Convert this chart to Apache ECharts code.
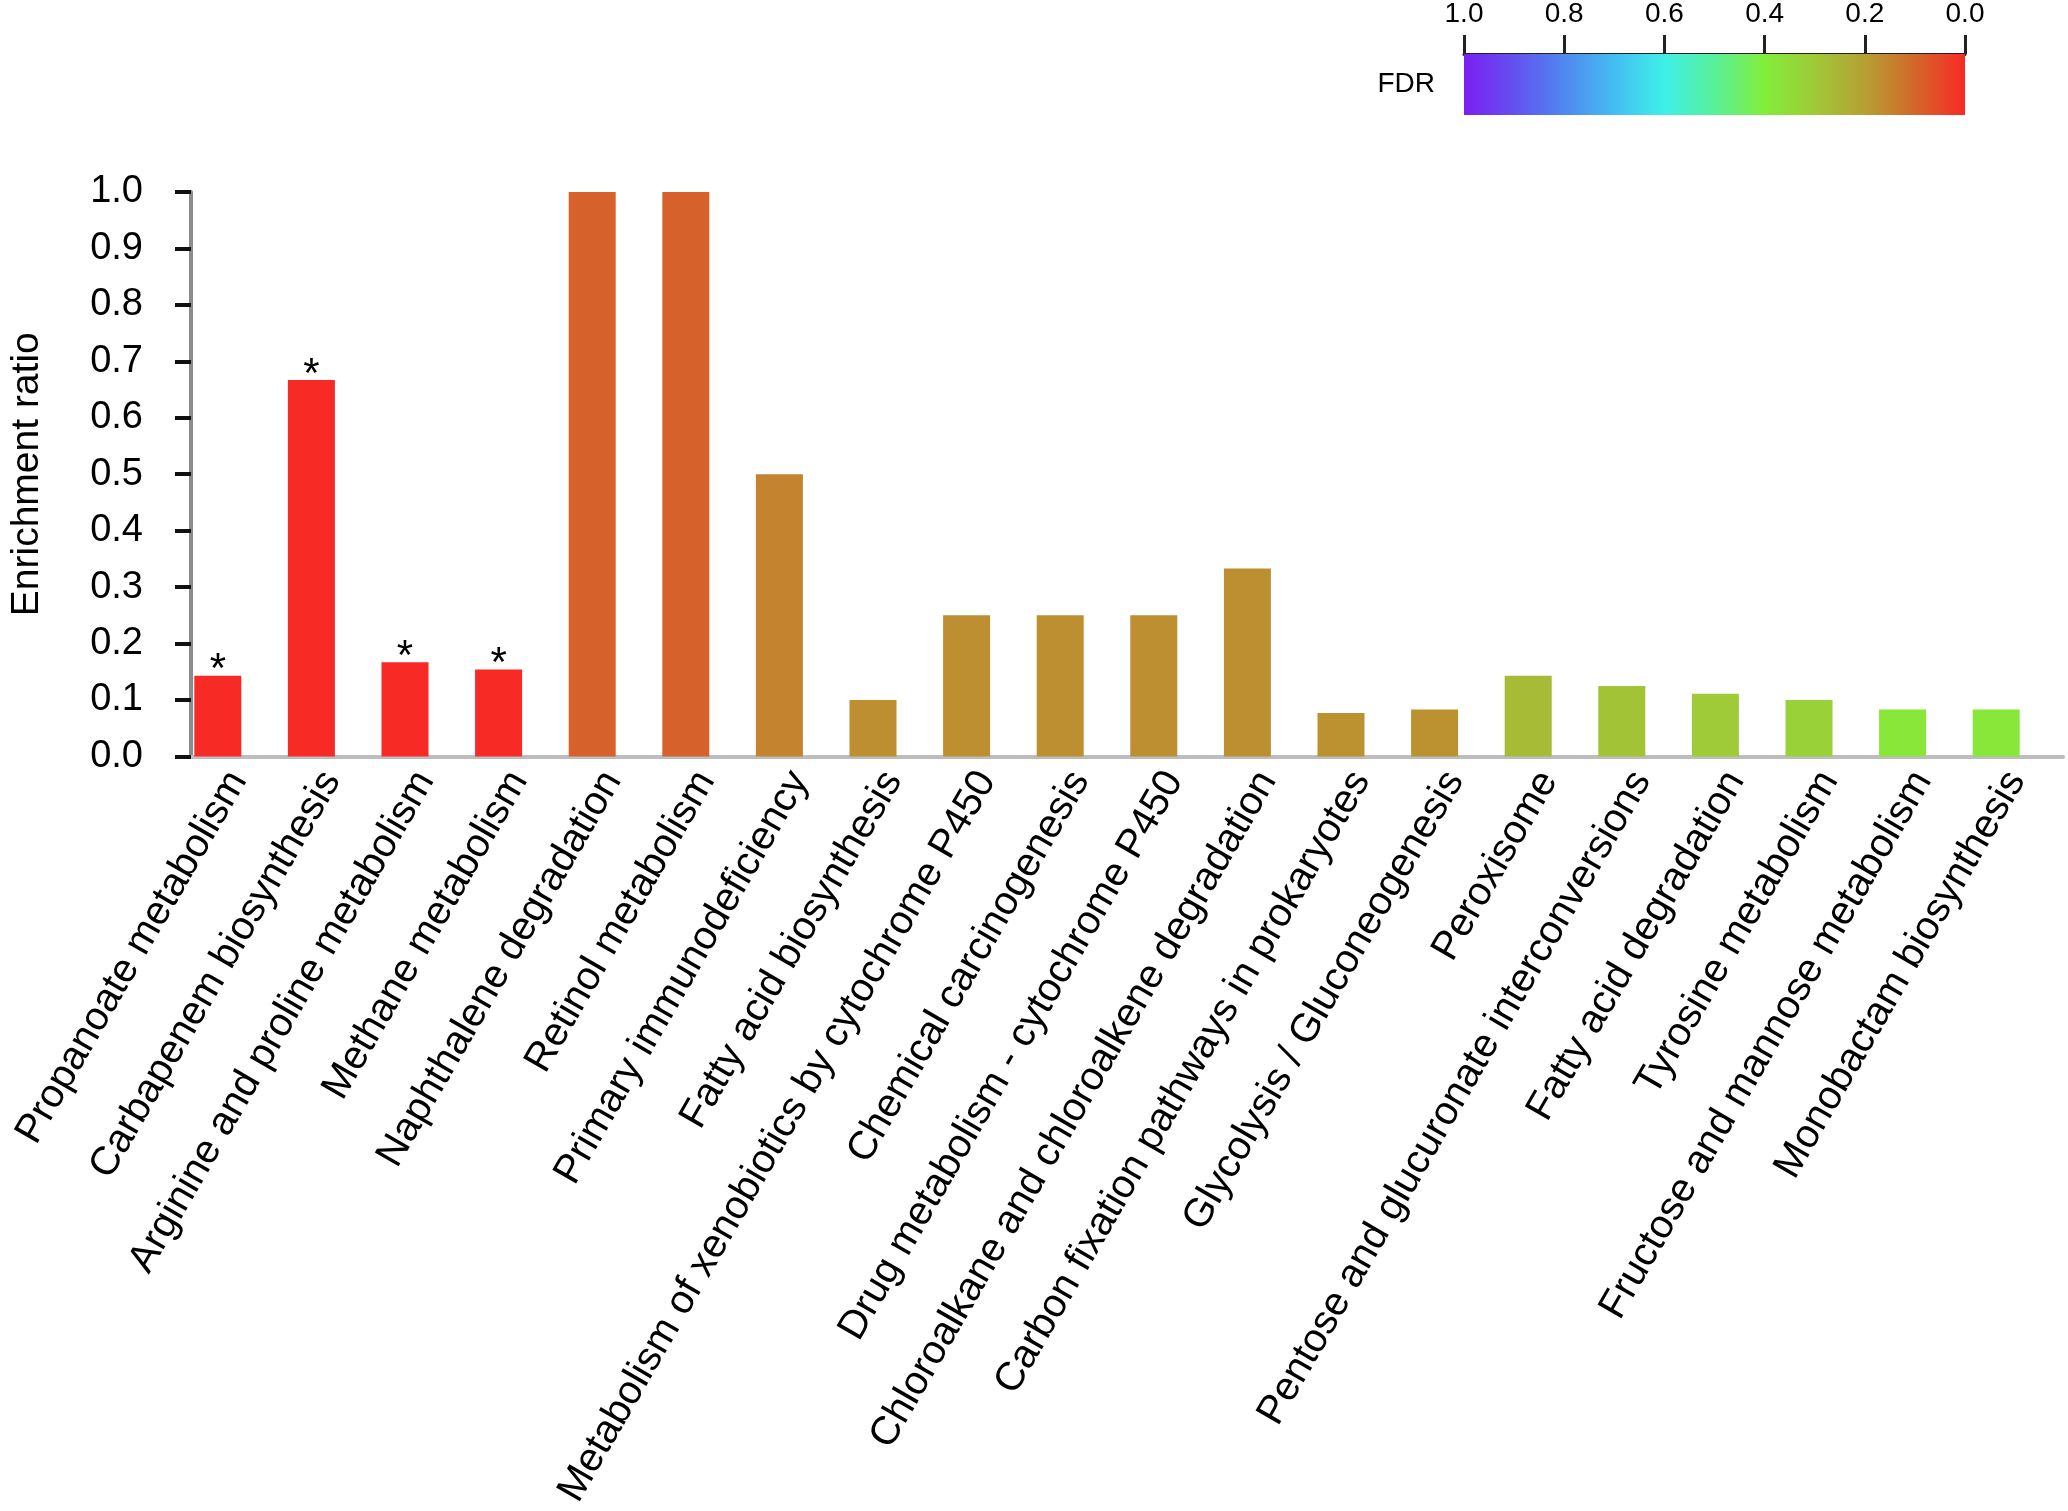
<!DOCTYPE html>
<html>
<head>
    <meta charset="utf-8">
    <title>Enrichment ratio</title>
    <style>
        html, body { margin: 0; padding: 0; background: #fff; }
    </style>
</head>
<body>
    <div id="main" style="width:2068px;height:1511px"></div>
    <script src="https://cdn.jsdelivr.net/npm/echarts@6/dist/echarts.min.js"></script>
    <script type="text/javascript">

    // pathways, in plotting order
    var categories = [
        'Propanoate metabolism',
        'Carbapenem biosynthesis',
        'Arginine and proline metabolism',
        'Methane metabolism',
        'Naphthalene degradation',
        'Retinol metabolism',
        'Primary immunodeficiency',
        'Fatty acid biosynthesis',
        'Metabolism of xenobiotics by cytochrome P450',
        'Chemical carcinogenesis',
        'Drug metabolism - cytochrome P450',
        'Chloroalkane and chloroalkene degradation',
        'Carbon fixation pathways in prokaryotes',
        'Glycolysis / Gluconeogenesis',
        'Peroxisome',
        'Pentose and glucuronate interconversions',
        'Fatty acid degradation',
        'Tyrosine metabolism',
        'Fructose and mannose metabolism',
        'Monobactam biosynthesis'
    ];

    // enrichment ratio (bar height)
    var ratios = [0.143, 0.667, 0.167, 0.154, 1.0, 1.0, 0.5, 0.1, 0.25, 0.25,
                  0.25, 0.333, 0.077, 0.083, 0.143, 0.125, 0.111, 0.1, 0.083, 0.083];

    // FDR (bar colour)
    var fdr = [0.0, 0.0, 0.0, 0.0, 0.09, 0.09, 0.15, 0.17, 0.17, 0.17,
               0.17, 0.17, 0.175, 0.175, 0.265, 0.285, 0.305, 0.325, 0.38, 0.38];

    // colour scale, FDR 0.0 -> 1.0
    var fdrStops = [0.0, 0.1, 0.2, 0.3, 0.4, 0.5, 0.6, 0.7, 0.8, 0.9, 1.0];
    var fdrColors = ['#F82A25', '#D2672A', '#B5A033', '#9FC937', '#82EE3A', '#58F09A',
                     '#3EF0E8', '#44BDF2', '#5088F0', '#6350F0', '#7B1FF0'];

    var FONT = "'Liberation Sans', Arial, sans-serif";

    var myChart = echarts.init(document.getElementById('main'));

    var barData = ratios.map(function (v, i) { return [i, v, fdr[i]]; });

    // colour bar: left end is FDR 1.0, right end 0.0
    var barGradient = new echarts.graphic.LinearGradient(0, 0, 1, 0,
        fdrStops.map(function (s, i) {
            return { offset: 1 - s, color: fdrColors[i] };
        }).reverse());

    var option = {
        backgroundColor: '#fff',
        animation: false,
        textStyle: { fontFamily: FONT },
        grid: [
            { left: 190, right: 5, top: 192, bottom: 754, containLabel: false },
            { left: 1464, top: 53, width: 501, height: 62, containLabel: false }
        ],
        visualMap: {
            show: false,
            type: 'continuous',
            seriesIndex: 0,
            dimension: 2,
            min: 0,
            max: 1,
            inRange: { color: fdrColors }
        },
        xAxis: [{
            type: 'category',
            gridIndex: 0,
            data: categories,
            boundaryGap: true,
            axisLine: { lineStyle: { color: '#bdbdbd', width: 4 } },
            axisTick: { show: false },
            axisLabel: {
                interval: 0,
                rotate: 60,
                margin: 18,
                color: '#000',
                fontSize: 40,
                fontFamily: FONT
            }
        }, {
            type: 'value',
            gridIndex: 1,
            position: 'top',
            inverse: true,
            min: 0,
            max: 1,
            interval: 0.2,
            splitLine: { show: false },
            axisLine: { show: true, onZero: false, lineStyle: { color: '#222', width: 3 } },
            axisTick: { show: true, inside: false, length: 19, lineStyle: { color: '#222', width: 3 } },
            axisLabel: {
                margin: 26,
                color: '#000',
                fontSize: 28,
                fontFamily: FONT,
                formatter: function (v) { return v.toFixed(1); }
            }
        }],
        yAxis: [{
            type: 'value',
            gridIndex: 0,
            min: 0,
            max: 1,
            interval: 0.1,
            name: 'Enrichment ratio',
            nameLocation: 'middle',
            nameGap: 144,
            nameTextStyle: { color: '#000', fontSize: 39, fontFamily: FONT },
            splitLine: { show: false },
            axisLine: { show: true, lineStyle: { color: '#8c8c8c', width: 4 } },
            axisTick: { show: true, inside: false, length: 16, lineStyle: { color: '#111', width: 4 } },
            axisLabel: {
                margin: 48,
                color: '#000',
                fontSize: 38,
                fontFamily: FONT,
                formatter: function (v) { return v.toFixed(1); }
            }
        }, {
            type: 'category',
            gridIndex: 1,
            data: ['FDR'],
            axisLine: { show: false },
            axisTick: { show: false },
            axisLabel: { margin: 29, color: '#000', fontSize: 28, fontFamily: FONT }
        }],
        series: [{
            name: 'Enrichment ratio',
            type: 'bar',
            xAxisIndex: 0,
            yAxisIndex: 0,
            barWidth: 47,
            barGap: '0%',
            data: barData,
            encode: { x: 0, y: 1 },
            label: {
                show: true,
                position: 'top',
                distance: -16,
                color: '#000',
                fontSize: 42,
                fontFamily: FONT,
                formatter: function (p) { return p.value[2] < 0.05 ? '*' : ''; }
            }
        }, {
            // empty slot, keeps each bar on the left half of its category
            name: 'spacer',
            type: 'bar',
            xAxisIndex: 0,
            yAxisIndex: 0,
            barWidth: 40,
            barGap: '0%',
            data: [],
            silent: true
        }, {
            name: 'FDR',
            type: 'bar',
            xAxisIndex: 1,
            yAxisIndex: 1,
            barWidth: '100%',
            data: [1],
            silent: true,
            itemStyle: { color: barGradient }
        }]
    };

    myChart.setOption(option);
    </script>
</body>
</html>
